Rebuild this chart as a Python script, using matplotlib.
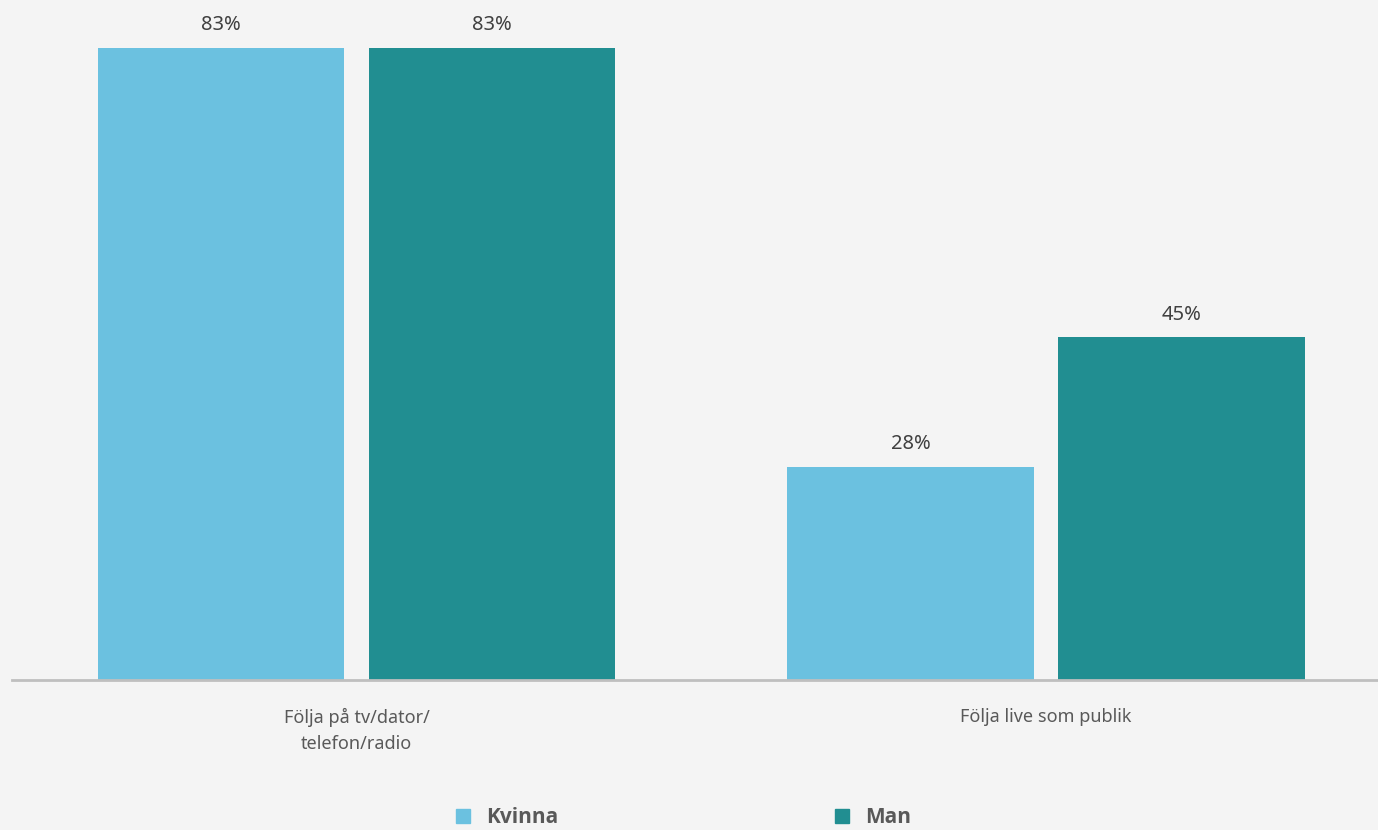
import numpy as np
from matplotlib import pyplot as plt
from matplotlib.lines import Line2D

plt.rcParams['font.family'] = ['Noto Sans', 'DejaVu Sans']

categories = ["Följa på tv/dator/\ntelefon/radio", "Följa live som publik"]
series = ["Kvinna", "Man"]
kvinna = [83, 28]
man = [83, 45]

BG = "#F4F4F4"
COLORS = ["#6BC1E0", "#218E91"]

fig = plt.figure(figsize=(13.78, 8.30), dpi=100, facecolor=BG)
ax = fig.add_axes([12 / 1378, 150 / 830, 1 - 12 / 1378, 680 / 830])
ax.set_facecolor(BG)

x = np.arange(len(categories))
w = 0.357
off = 0.1965
for vals, dx, col in [(kvinna, -off, COLORS[0]), (man, off, COLORS[1])]:
    bars = ax.bar(x + dx, vals, w, color=col)
    for b, v in zip(bars, vals):
        ax.text(b.get_x() + b.get_width() / 2, v + 2.3, f"{v}%",
                ha="center", va="baseline", fontsize=14.5, color="#404040",
                family="Noto Sans")

ax.set_xlim(-0.4996, 1.4816)
ax.set_ylim(0, 89.3)
ax.set_yticks([])
ax.set_xticks(x)
ax.set_xticklabels(categories, fontsize=13, color="#595959", linespacing=1.6)
ax.tick_params(axis="x", length=0, pad=20)
for s in ["top", "right", "left"]:
    ax.spines[s].set_visible(False)
ax.spines["bottom"].set_color("#BFBFBF")
ax.spines["bottom"].set_linewidth(2)

handles = [Line2D([], [], marker="s", ls="", markersize=10, color=c) for c in COLORS]
leg = fig.legend(handles, series, loc="center", bbox_to_anchor=(0.4948, 0.0145),
                 ncol=2, frameon=False, columnspacing=13.15, handletextpad=0.6,
                 handlelength=1.0, borderpad=0, borderaxespad=0,
                 prop={"family": "Open Sans", "weight": "bold", "size": 15})
for t in leg.get_texts():
    t.set_color("#595959")

fig.savefig("out.png", facecolor=BG)
